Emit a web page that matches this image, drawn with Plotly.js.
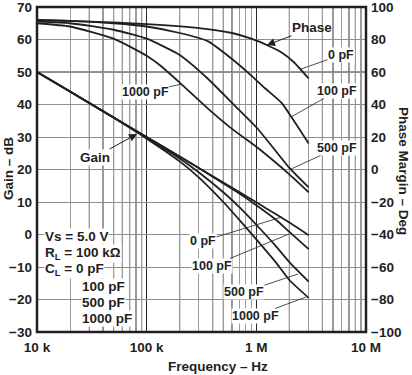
<!DOCTYPE html>
<html><head><meta charset="utf-8">
<script src="https://cdn.plot.ly/plotly-3.0.1.min.js"></script>
<style>html,body{margin:0;padding:0;background:#fff}#g{width:412px;height:375px}</style>
</head><body><div id="g"></div>
<script>
// ---- data ----
const freq = [1e4, 2e4, 5e4, 1e5, 2e5, 3e5, 5e5, 7e5, 1e6, 1.5e6, 2e6, 3e6];
const gain0pF    = [50, 44, 36, 30, 24, 20.45, 16, 13.1, 9.9, 6.3, 3.7, -0.2];
const gain100pF  = [50, 44, 36, 30, 24, 20.4, 15.7, 12.6, 9, 4.6, 0.8, -4.5];
const gain500pF  = [50, 44, 36, 29.8, 23.4, 19.1, 13, 8.4, 3, -3.5, -8.5, -14.5];
const gain1000pF = [50, 44, 35.9, 29.5, 22.5, 17.5, 10, 4.5, -1.5, -8.5, -14, -19.5];

const phaseFreq0   = [1e4, 3e4, 1e5, 3e5, 6e5, 9e5, 1.3e6, 1.7e6, 2.2e6, 3e6];
const phase0pF     = [92, 91, 89.5, 87, 84, 80.5, 76, 72, 66, 56];
const phaseFreq100 = [1e4, 2e4, 5e4, 1e5, 2e5, 3.6e5, 6e5, 8.8e5, 1.2e6, 1.7e6, 2.2e6, 3e6];
const phase100pF   = [92, 91.5, 90, 88, 84, 79, 68, 58.4, 50, 41, 30, 16];
const phaseFreq500 = [1e4, 2e4, 5e4, 1e5, 2e5, 3.6e5, 6e5, 1e6, 1.4e6, 2e6, 3e6];
const phase500pF   = [91, 90, 86, 80.5, 70.5, 56, 41, 26, 14, 1, -11];
const phaseFreq1000 = [1e4, 2e4, 5e4, 1e5, 1.33e5, 2e5, 3.6e5, 6e5, 1e6, 1.4e6, 2e6, 3e6];
const phase1000pF   = [90, 88, 80.5, 70, 64, 53.5, 37.6, 25, 14, 6, -3, -14];

const xTickVals = [1e4, 1e5, 1e6, 1e7];
const xTickText = ['10 k', '100 k', '1 M', '10 M'];

// ---- plot ----
const L = 37, R = 366, T = 7, B = 332, W = 412, H = 375;
const ink = '#231f20';
const FONT = 'Liberation Sans, Arial, sans-serif';
function px(x){ return (x - L) / (R - L); }
function py(y){ return (B - y) / (B - T); }

const lineStyle = {color: ink, width: 1.8, shape: 'spline', smoothing: 0.5};
const traces = [];
[gain0pF, gain100pF, gain500pF, gain1000pF].forEach(g => traces.push({x: freq, y: g, yaxis: 'y',
  type: 'scatter', mode: 'lines', line: lineStyle, hoverinfo: 'skip'}));
[[phaseFreq0, phase0pF], [phaseFreq100, phase100pF], [phaseFreq500, phase500pF], [phaseFreq1000, phase1000pF]]
  .forEach(p => traces.push({x: p[0], y: p[1], yaxis: 'y2', type: 'scatter', mode: 'lines',
  line: lineStyle, hoverinfo: 'skip'}));

const darkX = [3e4,4e4,5e4,6e4,7e4,8e4,9e4,2e5,4e5,5e5,6e5,2e6,4e6,5e6,7e6,8e6,9e6];
const shapes = [];
darkX.forEach(v => shapes.push({type:'line', xref:'x', yref:'paper', x0:v, x1:v, y0:0, y1:1,
  line:{color:'#2a2a2a', width:1}, layer:'below'}));
shapes.push({type:'line', xref:'paper', yref:'y', x0:0, x1:1, y0:50, y1:50, line:{color:'#2a2a2a', width:1}, layer:'below'});
shapes.push({type:'rect', xref:'paper', yref:'paper', x0:0, x1:1, y0:0, y1:1, line:{color:ink, width:2.5}});

function f(sz){ return {family: FONT, size: sz, color: ink, weight: 'bold'}; }
function lab(text, hx, hy, tx, ty, opt) {
  return Object.assign({xref:'paper', yref:'paper', x: px(hx), y: py(hy),
    ax: tx - hx, ay: ty - hy, axref:'pixel', ayref:'pixel', text: text, showarrow: true,
    arrowhead: 0, arrowwidth: 0.8, arrowcolor: ink, font: f(12.5), bgcolor: '#fff', borderpad: 0,
    xanchor:'center', yanchor:'middle'}, opt || {});
}
function txt(text, x, y, opt) {
  return Object.assign({xref:'paper', yref:'paper', x: px(x), y: py(y), text: text, showarrow:false,
    font: f(13.5), bgcolor:'#fff', borderpad:0, xanchor:'center', yanchor:'middle'}, opt || {});
}

const annotations = [
  lab('Phase', 267, 45, 312, 28, {arrowhead: 2, arrowsize: 1.6, arrowwidth: 1, font: f(13.5), bgcolor:'rgba(0,0,0,0)'}),
  lab('0 pF', 301, 69, 341, 55),
  lab('100 pF', 291, 117, 337, 91),
  lab('500 pF', 291, 169, 337, 148),
  lab('1000 pF', 182, 84, 145, 92),
  lab('Gain', 137, 134, 95, 157, {arrowhead: 2, arrowsize: 1.6, arrowwidth: 1, font: f(13.5)}),
  lab('0 pF', 282, 217, 203, 241),
  lab('100 pF', 289, 234, 212, 266),
  lab('500 pF', 298, 274, 244, 292),
  lab('1000 pF', 306, 297, 255, 316),
  txt('Vs = 5.0 V', 44, 237, {xanchor:'left'}),
  txt('R<sub>L</sub> = 100 kΩ', 44, 253, {xanchor:'left'}),
  txt('C<sub>L</sub> = 0 pF', 44, 269, {xanchor:'left'}),
  txt('100 pF', 81, 286, {xanchor:'left'}),
  txt('500 pF', 81, 302, {xanchor:'left'}),
  txt('1000 pF', 81, 318, {xanchor:'left'}),
  txt('Frequency – Hz', 218, 366, {bgcolor:'rgba(0,0,0,0)'}),
  txt('Gain – dB', 8, 169, {textangle: -90, bgcolor:'rgba(0,0,0,0)'}),
  txt('Phase Margin – Deg', 404, 171, {textangle: 90, bgcolor:'rgba(0,0,0,0)'})
];

const tickFont = f(13.5);
const layout = {
  width: W, height: H, margin: {l: L, r: W - R, t: T, b: H - B},
  paper_bgcolor: '#fff', plot_bgcolor: '#fff', showlegend: false,
  xaxis: {type: 'log', range: [4, 7], tickvals: xTickVals, ticktext: xTickText,
    showgrid: true, gridcolor: '#2a2a2a', gridwidth: 1, zeroline: false, ticks: '',
    tickfont: tickFont, showline: false, ticklabelstandoff: 5, ticklabeloverflow: 'allow',
    minor: {showgrid: true, gridcolor: '#9c9c9c', gridwidth: 1, ticks: '', dtick: 'D1'}},
  yaxis: {range: [-30, 70], dtick: 10, showgrid: true, gridcolor: '#8e8e8e', gridwidth: 1,
    zeroline: false, ticks: '', tickfont: tickFont, showline: false, ticklabelstandoff: 4,
    ticklabeloverflow: 'allow'},
  yaxis2: {range: [-100, 100], dtick: 20, overlaying: 'y', side: 'right', showgrid: false,
    zeroline: false, ticks: '', tickfont: tickFont, showline: false, ticklabelstandoff: 4,
    ticklabeloverflow: 'allow'},
  shapes: shapes, annotations: annotations
};
Plotly.newPlot('g', traces, layout, {staticPlot: true, displayModeBar: false});
</script></body></html>
